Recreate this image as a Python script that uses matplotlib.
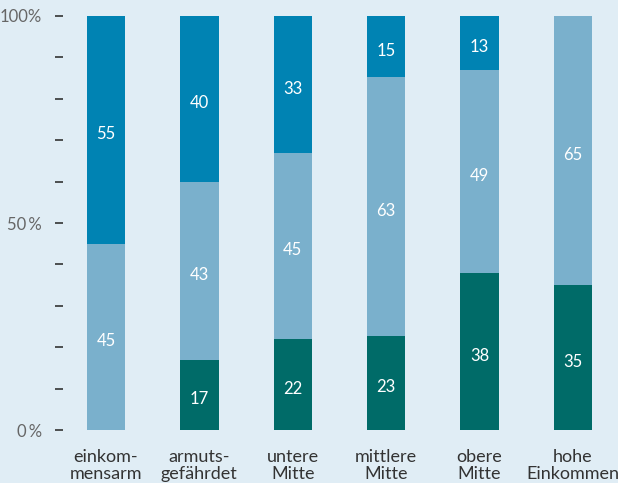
import numpy as np
import matplotlib.pyplot as plt
from matplotlib.ticker import MultipleLocator

plt.rcParams['font.family'] = ['Lato', 'DejaVu Sans']

kategorien = ['einkom-\nmensarm', 'armuts-\ngefährdet', 'untere\nMitte',
              'mittlere\nMitte', 'obere\nMitte', 'hohe\nEinkommen']
unten = np.array([0, 17, 22, 23, 38, 35])   # dunkelgrün
mitte = np.array([45, 43, 45, 63, 49, 65])  # hellblau
oben = np.array([55, 40, 33, 15, 13, 0])    # blau

bg = '#e0edf5'
farben = ['#006b68', '#7ab0cc', '#0083b3']

# auf 100 % normieren (Rundung: Summen nicht immer 100)
summe = unten + mitte + oben

fig = plt.figure(figsize=(6.18, 4.83), dpi=100, facecolor=bg)
ax = fig.add_axes([0.102, 0.1097, 0.893, 0.8572], facecolor=bg)

x = np.arange(len(kategorien))
w = 0.41
boden = np.zeros(len(x))
for werte, c in zip([unten, mitte, oben], farben):
    h = werte / summe * 100
    ax.bar(x, h, w, bottom=boden, color=c, zorder=2)
    for xi, b, hi, v in zip(x, boden, h, werte):
        if v > 0:
            ax.text(xi, b + hi / 2 - 1.1, str(v), ha='center', va='center',
                    color='white', fontsize=12)
    boden = boden + h

ax.set_xlim(-0.46, 5.45)
ax.set_ylim(0, 100)
for s in ax.spines.values():
    s.set_visible(False)

ax.set_xticks(x)
ax.set_xticklabels(kategorien, fontsize=13, color='#333333', linespacing=1.12)
ax.tick_params(axis='x', length=0, pad=13.5)

ax.yaxis.set_minor_locator(MultipleLocator(10))
ax.set_yticks([0, 50, 100])
ax.set_yticklabels(['0\u2009%', '50\u2009%', '100%'], fontsize=12, color='#666666')
ax.tick_params(axis='y', which='both', length=6, width=1.2, color='#333333', pad=9)

fig.savefig('out.png', dpi=100, facecolor=bg)
